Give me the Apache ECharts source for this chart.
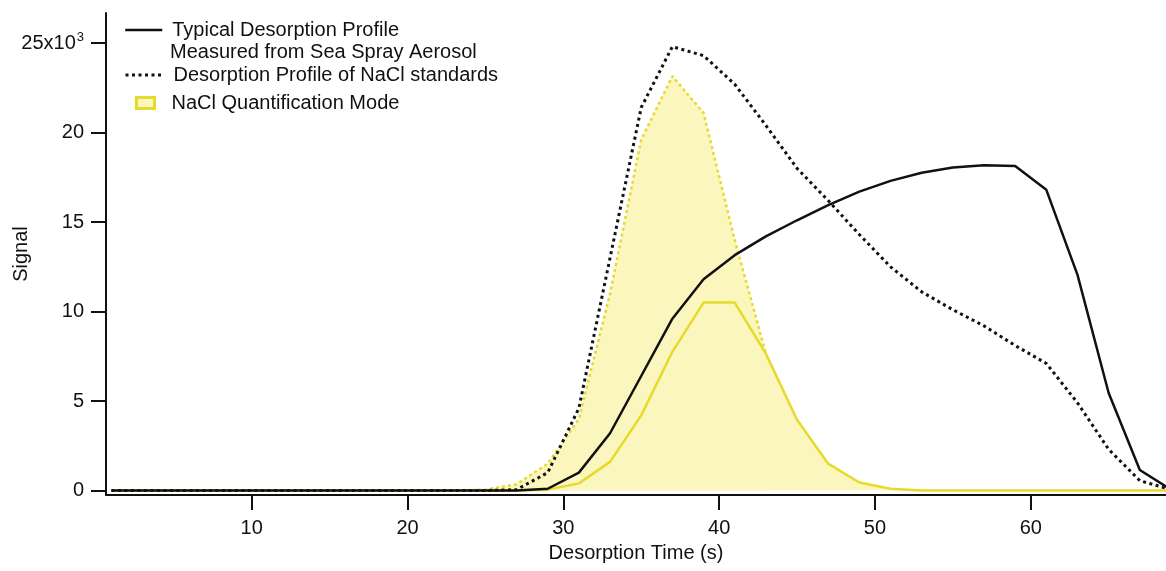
<!DOCTYPE html>
<html>
<head>
<meta charset="utf-8">
<script src="https://cdn.jsdelivr.net/npm/echarts@6/dist/echarts.min.js"></script>
<style>
  html, body { margin: 0; padding: 0; background: #ffffff; }
  #chart { width: 1166px; height: 571px; }
</style>
</head>
<body>
<div id="chart"></div>
<script>
// Desorption time (s), one sample every 2 s
const times = [1, 3, 5, 7, 9, 11, 13, 15, 17, 19, 21, 23, 25, 27, 29, 31, 33, 35,
               37, 39, 41, 43, 45, 47, 49, 51, 53, 55, 57, 59, 61, 63, 65, 67, 69];

// Typical desorption profile measured from sea spray aerosol
const seaSpraySignal = [0, 0, 0, 0, 0, 0, 0, 0, 0, 0, 0, 0, 0, 0,
  100, 1000, 3200, 6400, 9600, 11800, 13150, 14200, 15100, 15950, 16700,
  17300, 17750, 18050, 18170, 18130, 16800, 12050, 5450, 1150, 50];

// Desorption profile of NaCl standards
const naclStandardSignal = [0, 0, 0, 0, 0, 0, 0, 0, 0, 0, 0, 0, 0,
  50, 1000, 4600, 13000, 21400, 24800, 24300, 22700, 20400, 18000, 16200,
  14300, 12500, 11100, 10100, 9200, 8100, 7100, 4900, 2300, 550, 50];

// NaCl quantification mode: solid profile
const quantModeSignal = [0, 0, 0, 0, 0, 0, 0, 0, 0, 0, 0, 0, 0, 0,
  50, 400, 1600, 4200, 7750, 10500, 10500, 7650, 3950, 1500, 450, 100,
  0, 0, 0, 0, 0, 0, 0, 0, 0];

// NaCl quantification mode: dotted upper envelope of the shaded window
const quantWindowSignal = [null, null, null, null, null, null, null, null, null, null, null,
  0, 50, 350, 1500, 4000, 11000, 19600, 23150, 21100, 14000, 7650,
  null, null, null, null, null, null, null, null, null, null, null, null, null];

// Y-axis tick values
const yTicks = [0, 5000, 10000, 15000, 20000, 25000];
// X-axis tick values
const xTicks = [10, 20, 30, 40, 50, 60];

const pair = (xs, ys) => xs.map((x, i) => [x, ys[i]]);

const FONT = '"Liberation Sans", Arial, Helvetica, sans-serif';
const FS = 20;
const INK = '#111111';
const YELLOW = '#E6DA2A';
const YELLOW_FILL = '#FBF6BE';

const chart = echarts.init(document.getElementById('chart'), null, { renderer: 'canvas' });

const legendText = { fontSize: FS, color: INK, fontFamily: FONT };

chart.setOption({
  animation: false,
  backgroundColor: '#ffffff',
  textStyle: { fontFamily: FONT, color: INK },
  grid: { left: 106, right: 0, top: 13, bottom: 76, containLabel: false, outerBoundsMode: 'none' },
  xAxis: {
    type: 'value',
    min: 0.65,
    max: 68.68,
    position: 'bottom',
    name: 'Desorption Time (s)',
    nameLocation: 'middle',
    nameGap: 48,
    nameMoveOverlap: false,
    nameTextStyle: { fontSize: FS, color: INK, fontFamily: FONT },
    axisLine: { show: true, onZero: false, lineStyle: { color: INK, width: 2 } },
    axisTick: { show: true, inside: false, length: 15, customValues: xTicks,
                lineStyle: { color: INK, width: 2 } },
    axisLabel: { customValues: xTicks, margin: 23, fontSize: FS, color: INK, fontFamily: FONT },
    splitLine: { show: false }
  },
  yAxis: {
    type: 'value',
    min: -250,
    max: 26680,
    name: 'Signal',
    nameLocation: 'middle',
    nameGap: 75,
    nameRotate: 90,
    nameMoveOverlap: false,
    nameTextStyle: { fontSize: FS, color: INK, fontFamily: FONT },
    axisLine: { show: true, onZero: false, lineStyle: { color: INK, width: 2 } },
    axisTick: { show: true, inside: false, length: 15, customValues: yTicks,
                lineStyle: { color: INK, width: 2 } },
    axisLabel: {
      customValues: yTicks,
      margin: 22,
      fontSize: FS,
      color: INK,
      fontFamily: FONT,
      formatter: v => (v === 25000 ? '{b|25x10}{s|3}' : String(v / 1000)),
      rich: {
        b: { fontSize: FS, color: INK, fontFamily: FONT, lineHeight: 24 },
        s: { fontSize: 13, color: INK, fontFamily: FONT, verticalAlign: 'top', lineHeight: 24, padding: [0, 0, 11, 1] }
      }
    },
    splitLine: { show: false }
  },
  legend: [
    {
      data: [{ name: 'Typical Desorption Profile' }],
      left: 124, top: 20, padding: 0, orient: 'vertical',
      itemWidth: 37, itemHeight: 14, selectedMode: false,
      itemStyle: { opacity: 0 },
      lineStyle: { color: INK, width: 2.5 },
      textStyle: Object.assign({ padding: [0, 0, 0, 5] }, legendText)
    },
    {
      data: [{ name: 'Desorption Profile of NaCl standards' }],
      left: 124, top: 65, padding: 0, orient: 'vertical',
      itemWidth: 37, itemHeight: 14, selectedMode: false,
      itemStyle: { opacity: 0 },
      lineStyle: { color: INK, width: 3, type: [3, 3.5] },
      textStyle: Object.assign({ padding: [0, 0, 0, 6] }, legendText)
    },
    {
      data: [{
        name: 'NaCl Quantification Mode',
        icon: 'rect',
        itemStyle: { color: YELLOW_FILL, borderColor: YELLOW, borderWidth: 3 }
      }],
      left: 135, top: 93, padding: 0, orient: 'vertical',
      itemWidth: 18, itemHeight: 11, selectedMode: false,
      textStyle: Object.assign({ padding: [0, 0, 0, 12] }, legendText)
    }
  ],
  graphic: [
    {
      type: 'text',
      left: 170,
      top: 42,
      style: { text: 'Measured from Sea Spray Aerosol', fontSize: FS, fill: INK, fontFamily: FONT }
    }
  ],
  series: [
    {
      name: 'NaCl Quantification Mode',
      type: 'line',
      data: pair(times, quantWindowSignal),
      symbol: 'none',
      connectNulls: false,
      z: 1,
      lineStyle: { color: YELLOW, width: 2.5, type: [3, 3] },
      itemStyle: { color: YELLOW },
      areaStyle: { color: YELLOW_FILL, opacity: 1 }
    },
    {
      name: 'NaCl Quantification Mode',
      type: 'line',
      data: pair(times, quantModeSignal),
      symbol: 'none',
      z: 1,
      lineStyle: { color: YELLOW, width: 2.5 },
      itemStyle: { color: YELLOW },
      areaStyle: { color: YELLOW_FILL, opacity: 1 }
    },
    {
      name: 'Desorption Profile of NaCl standards',
      type: 'line',
      data: pair(times, naclStandardSignal),
      symbol: 'none',
      z: 2,
      lineStyle: { color: INK, width: 3, type: [3, 3.5] },
      itemStyle: { color: INK }
    },
    {
      name: 'Typical Desorption Profile',
      type: 'line',
      data: pair(times, seaSpraySignal),
      symbol: 'none',
      z: 3,
      lineStyle: { color: INK, width: 2.5 },
      itemStyle: { color: INK }
    }
  ]
});
</script>
</body>
</html>
